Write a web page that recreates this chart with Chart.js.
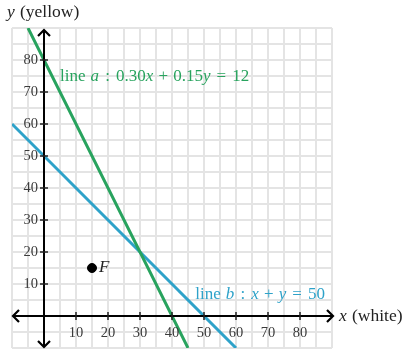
<!DOCTYPE html>
<html>
<head>
<meta charset="utf-8">
<script src="https://cdn.jsdelivr.net/npm/chart.js@4/dist/chart.umd.min.js"></script>
<style>
html,body{margin:0;padding:0;background:#fff;}
#wrap{width:410px;height:356px;position:relative;}
</style>
</head>
<body>
<div id="wrap"><canvas id="c" width="410" height="356"></canvas></div>
<script>
// ---- data ----
const xTickLabels = [10, 20, 30, 40, 50, 60, 70, 80];
const yTickLabels = [10, 20, 30, 40, 50, 60, 70, 80];
// line a: 0.30x + 0.15y = 12  (endpoints at plot edges)
const lineAX = [-5, 45];
const lineAY = [90, -10];
// line b: x + y = 50
const lineBX = [-10, 60];
const lineBY = [60, -10];
// point F
const pointFX = [15];
const pointFY = [15];
const pointFLabel = "F";
const xRange = [-10, 90];
const yRange = [-10, 90];

const GREEN = '#28a35e';
const BLUE = '#2ea2c9';
const SERIF = '"Liberation Serif", "DejaVu Serif", serif';

function toPts(xs, ys){ return xs.map((x,i)=>({x:x, y:ys[i]})); }

// draw mixed text: parts = [[text, italic], ...] or numbers = gap in em
function drawMixed(ctx, parts, x, y, size, color, align){
  ctx.save();
  ctx.fillStyle = color;
  ctx.textBaseline = 'middle';
  ctx.textAlign = 'left';
  let total = 0;
  const widths = parts.map(p=>{
    if (typeof p === 'number') { const w = p*size; total += w; return w; }
    ctx.font = (p[1]?'italic ':'') + size + 'px ' + SERIF;
    const w = ctx.measureText(p[0]).width; total += w; return w;
  });
  let cx = align === 'right' ? x - total : (align==='center' ? x - total/2 : x);
  parts.forEach((p,i)=>{
    if (typeof p !== 'number') {
      ctx.font = (p[1]?'italic ':'') + size + 'px ' + SERIF;
      ctx.fillText(p[0], cx, y);
    }
    cx += widths[i];
  });
  ctx.restore();
}

const TH = 0.36, MD = 0.3; // thick / medium math spaces (em)

const axesPlugin = {
  id: 'axesPlugin',
  afterDatasetsDraw(chart){
    const ctx = chart.ctx;
    const xs = chart.scales.x, ys = chart.scales.y;
    const x0 = xs.getPixelForValue(0), y0 = ys.getPixelForValue(0);
    const area = chart.chartArea;
    ctx.save();
    ctx.strokeStyle = '#000';
    ctx.lineWidth = 2;
    ctx.lineCap = 'butt';
    // x axis
    const xl = area.left + 1, xr = area.right + 1;
    ctx.beginPath(); ctx.moveTo(xl, y0); ctx.lineTo(xr, y0); ctx.stroke();
    // y axis
    const yt = area.top + 2, yb = area.bottom - 1;
    ctx.beginPath(); ctx.moveTo(x0, yt); ctx.lineTo(x0, yb); ctx.stroke();
    // arrowheads (chevrons)
    const a = 6;
    ctx.lineWidth = 2.2;
    ctx.lineJoin = 'miter';
    ctx.beginPath(); ctx.moveTo(xr - a, y0 - a); ctx.lineTo(xr, y0); ctx.lineTo(xr - a, y0 + a); ctx.stroke();
    ctx.beginPath(); ctx.moveTo(xl + a, y0 - a); ctx.lineTo(xl, y0); ctx.lineTo(xl + a, y0 + a); ctx.stroke();
    ctx.beginPath(); ctx.moveTo(x0 - a, yt + a); ctx.lineTo(x0, yt); ctx.lineTo(x0 + a, yt + a); ctx.stroke();
    ctx.beginPath(); ctx.moveTo(x0 - a, yb - a); ctx.lineTo(x0, yb); ctx.lineTo(x0 + a, yb - a); ctx.stroke();
    // ticks
    ctx.lineWidth = 1.5;
    ctx.strokeStyle = '#222';
    xTickLabels.forEach(v=>{
      const px = xs.getPixelForValue(v);
      ctx.beginPath(); ctx.moveTo(px, y0 - 4); ctx.lineTo(px, y0 + 4); ctx.stroke();
    });
    yTickLabels.forEach(v=>{
      const py = ys.getPixelForValue(v);
      ctx.beginPath(); ctx.moveTo(x0 - 4, py); ctx.lineTo(x0 + 4, py); ctx.stroke();
    });
    // tick labels
    ctx.fillStyle = '#3a3a3a';
    ctx.font = '14.5px ' + SERIF;
    ctx.textAlign = 'center'; ctx.textBaseline = 'middle';
    xTickLabels.forEach(v=>{
      const px = xs.getPixelForValue(v);
      ctx.fillText(String(v), px, y0 + 17);
    });
    ctx.textAlign = 'right';
    yTickLabels.forEach(v=>{
      const py = ys.getPixelForValue(v);
      ctx.fillText(String(v), x0 - 6, py);
    });
    ctx.restore();
    // axis titles
    drawMixed(ctx, [['y', true], 0.3, ['(yellow)', false]], 7, 12, 17.5, '#222', 'left');
    drawMixed(ctx, [['x', true], 0.3, ['(white)', false]], xr + 6, y0, 17.5, '#222', 'left');
    // line labels
    drawMixed(ctx, [['line', false], 0.3, ['a', true], TH, [':', false], TH, ['0.30', false], ['x', true], MD, ['+', false], MD,
      ['0.15', false], ['y', true], TH, ['=', false], TH, ['12', false]],
      60, ys.getPixelForValue(75) + 0.5, 17, GREEN, 'left');
    drawMixed(ctx, [['line', false], 0.3, ['b', true], TH, [':', false], TH, ['x', true], MD, ['+', false], MD,
      ['y', true], TH, ['=', false], TH, ['50', false]],
      325, ys.getPixelForValue(7) + 0.5, 17, BLUE, 'right');
    // point label
    const fp = {x: xs.getPixelForValue(pointFX[0]), y: ys.getPixelForValue(pointFY[0])};
    drawMixed(ctx, [[pointFLabel, true]], fp.x + 7, fp.y, 17, '#222', 'left');
  }
};

new Chart(document.getElementById('c'), {
  type: 'scatter',
  data: {
    datasets: [
      { data: toPts(lineAX, lineAY), showLine: true, borderColor: GREEN, borderWidth: 3, pointRadius: 0, fill: false },
      { data: toPts(lineBX, lineBY), showLine: true, borderColor: BLUE, borderWidth: 3, pointRadius: 0, fill: false },
      { data: toPts(pointFX, pointFY), showLine: false, backgroundColor: '#000', borderColor: '#000', pointRadius: 4.5 }
    ]
  },
  options: {
    responsive: false,
    animation: false,
    devicePixelRatio: 1,
    layout: { padding: { left: 12, right: 78, top: 28, bottom: 8 } },
    plugins: { legend: { display: false }, tooltip: { enabled: false }, title: { display: false } },
    scales: {
      x: {
        type: 'linear', min: xRange[0], max: xRange[1],
        ticks: { display: false, stepSize: 5 },
        grid: { color: '#e4e4e4', lineWidth: 2, drawTicks: false },
        border: { display: false }
      },
      y: {
        type: 'linear', min: yRange[0], max: yRange[1],
        ticks: { display: false, stepSize: 5 },
        grid: { color: '#e4e4e4', lineWidth: 2, drawTicks: false },
        border: { display: false }
      }
    }
  },
  plugins: [axesPlugin]
});
</script>
</body>
</html>
